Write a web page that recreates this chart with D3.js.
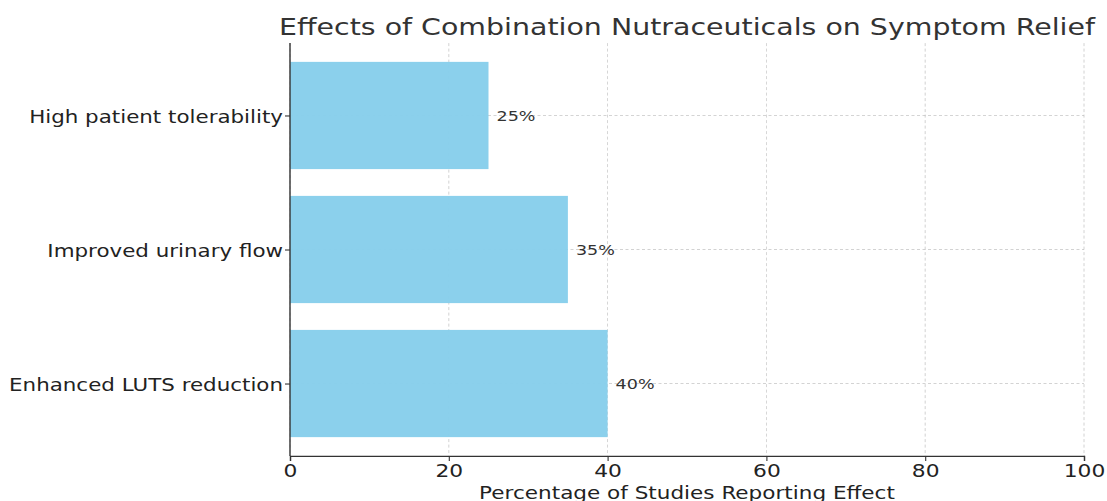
<!DOCTYPE html>
<html><head><meta charset="utf-8">
<script src="https://cdn.jsdelivr.net/npm/d3@7"></script>
<style>body{margin:0;background:#fff}svg{display:block}text{font-family:"DejaVu Sans",sans-serif}</style>
</head><body>
<svg id="c" width="1107" height="501"></svg>
<script>
const categories = ["Enhanced LUTS reduction","Improved urinary flow","High patient tolerability"];
const values = [40,35,25];
const xTicks = [0,20,40,60,80,100];
const title = "Effects of Combination Nutraceuticals on Symptom Relief";
const xLabel = "Percentage of Studies Reporting Effect";

const svg = d3.select("#c");
const L=290, R=1084, T=43.1, B=455.9;
const K=1.21; // horizontal text stretch
function stretch(sel){
  sel.each(function(){
    const x=+(this.getAttribute("x")||0);
    this.setAttribute("transform",`translate(${x},0) scale(${K},1) translate(${-x},0)`);
  });
}
const x = d3.scaleLinear().domain([0,100]).range([L,R]);
const y = d3.scaleLinear().domain([-0.54,2.54]).range([B,T]);
const bh = y(-0.4)-y(0.4);

const g = svg.append("g");
g.selectAll("line.vg").data(xTicks).join("line")
  .attr("x1",d=>x(d)).attr("x2",d=>x(d)).attr("y1",T).attr("y2",B)
  .attr("stroke","#b0b0b0").attr("stroke-width",0.8).attr("stroke-dasharray","3,2.5").attr("opacity",0.7);
g.selectAll("line.hg").data(categories).join("line")
  .attr("x1",L).attr("x2",R).attr("y1",(d,i)=>y(i)).attr("y2",(d,i)=>y(i))
  .attr("stroke","#b0b0b0").attr("stroke-width",0.8).attr("stroke-dasharray","3,2.5").attr("opacity",0.7);

svg.selectAll("rect.bar").data(values).join("rect")
  .attr("x",x(0)).attr("y",(d,i)=>y(i+0.4)).attr("width",d=>x(d)-x(0)).attr("height",bh)
  .attr("fill","#87CEEB").attr("fill-opacity",0.97);

svg.selectAll("text.val").data(values).join("text")
  .attr("x",d=>x(d)+8).attr("y",(d,i)=>y(i)).attr("dy","0.35em")
  .attr("font-size",14.5).attr("fill","#333").text(d=>d+"%").call(stretch);

const xa = svg.append("g").attr("transform",`translate(0,${B})`)
  .call(d3.axisBottom(x).tickValues(xTicks).tickSize(5).tickPadding(3));
xa.select(".domain").attr("stroke","#333").attr("stroke-width",1.4);
xa.selectAll(".tick line").attr("stroke","#333").attr("stroke-width",1.1);
xa.selectAll(".tick text").attr("font-size",18).attr("fill","#222").attr("font-family","DejaVu Sans").call(stretch);

const ya = svg.append("g").attr("transform",`translate(${L},0)`)
  .call(d3.axisLeft(y).tickValues([0,1,2]).tickFormat(i=>categories[i]).tickSize(5).tickPadding(2));
ya.select(".domain").attr("stroke","#333").attr("stroke-width",1.4).attr("d",`M0,${T}V${B}`);
ya.selectAll(".tick line").attr("stroke","#333").attr("stroke-width",1.1);
ya.selectAll(".tick text").attr("font-size",17.7).attr("dy","0.42em").attr("fill","#222").attr("font-family","DejaVu Sans").call(stretch);

svg.append("text").attr("x",(278+1096)/2).attr("y",35).attr("text-anchor","middle")
  .attr("font-size",23.5).attr("fill","#333").text(title).call(stretch);
svg.append("text").attr("x",687).attr("y",499).attr("text-anchor","middle")
  .attr("font-size",17.8).attr("fill","#222").text(xLabel).call(stretch);
</script>
</body></html>
